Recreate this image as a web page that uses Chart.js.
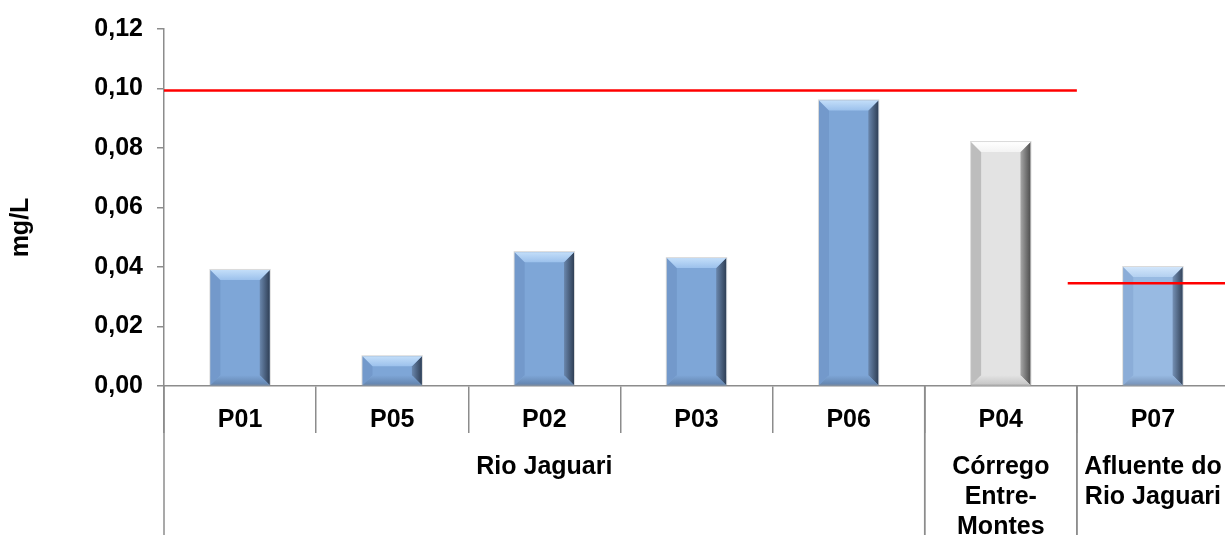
<!DOCTYPE html>
<html>
<head>
<meta charset="utf-8">
<script src="https://cdn.jsdelivr.net/npm/chart.js@4.4.1/dist/chart.umd.min.js"></script>
<style>
html, body { margin: 0; padding: 0; background: #fff; overflow: hidden; }
#wrap { position: relative; width: 1229px; height: 535px; }
</style>
</head>
<body>
<div id="wrap"><canvas id="chart"></canvas></div>
<script>
// data
const categories = ['P01', 'P05', 'P02', 'P03', 'P06', 'P04', 'P07'];
const values = [0.039, 0.010, 0.045, 0.043, 0.096, 0.082, 0.040];
const groupLabels = [['Rio Jaguari'], ['Córrego', 'Entre-', 'Montes'], ['Afluente do', 'Rio Jaguari']];
const groupFirst = [0, 5, 6];
const groupLast = [4, 5, 6];
// limit lines (value, start and end in category index units)
const limitValues = [0.0993, 0.0345];
const limitFrom = [-0.5, 5.44];
const limitTo = [5.5, 6.5];
const yTitle = 'mg/L';

// look of each bar
const palette = {
    blue:  { main: '#7ea6d7', top: ['#c3def9', '#9cc1ec'], left: '#7399cb', right: ['#6a87ad', '#2f3f56'], bottom: '#6283ad' },
    gray:  { main: '#e3e3e3', top: ['#ffffff', '#f3f3f3'], left: '#bdbdbd', right: ['#a8a8a8', '#4f4f4f'], bottom: '#c4c4c4' },
    light: { main: '#98bae2', top: ['#d2e6fb', '#b3d0f0'], left: '#8badd8', right: ['#7591b5', '#34445b'], bottom: '#7692b8' }
};
const barStyle = ['blue', 'blue', 'blue', 'blue', 'blue', 'gray', 'light'];

const fmt = v => v.toFixed(2).replace('.', ',');
const boldFont = size => ({ family: '"Liberation Sans", Arial, sans-serif', size: size, weight: 'bold' });

function poly(ctx, pts, fill) {
    ctx.beginPath();
    ctx.moveTo(pts[0][0], pts[0][1]);
    for (let i = 1; i < pts.length; i++) ctx.lineTo(pts[i][0], pts[i][1]);
    ctx.closePath();
    ctx.fillStyle = fill;
    ctx.fill();
}

// bevel edges on top of each bar
const bevelPlugin = {
    id: 'bevel',
    afterDatasetDraw(chart, args) {
        if (args.index !== 0) return;
        const ctx = chart.ctx;
        args.meta.data.forEach((bar, i) => {
            const p = palette[barStyle[i]];
            const l = bar.x - bar.width / 2, r = bar.x + bar.width / 2;
            const t = bar.y, b = bar.base;
            const s = Math.min(10, (b - t) / 2);
            ctx.save();
            poly(ctx, [[l, t], [l + s, t + s], [l + s, b - s], [l, b]], p.left);
            let g = ctx.createLinearGradient(r - s, 0, r, 0);
            g.addColorStop(0, p.right[0]); g.addColorStop(1, p.right[1]);
            poly(ctx, [[r, t], [r, b], [r - s, b - s], [r - s, t + s]], g);
            g = ctx.createLinearGradient(0, b - s, 0, b);
            g.addColorStop(0, p.main); g.addColorStop(1, p.bottom);
            poly(ctx, [[l, b], [r, b], [r - s, b - s], [l + s, b - s]], g);
            g = ctx.createLinearGradient(0, t, 0, t + s);
            g.addColorStop(0, p.top[0]); g.addColorStop(1, p.top[1]);
            poly(ctx, [[l, t], [r, t], [r - s, t + s], [l + s, t + s]], g);
            ctx.strokeStyle = 'rgba(150,150,150,0.35)';
            ctx.lineWidth = 1;
            ctx.strokeRect(l - 0.5, t - 0.5, r - l + 1, b - t);
            ctx.restore();
        });
    }
};

// group row under the category labels, plus axis title
const groupPlugin = {
    id: 'groups',
    afterDraw(chart) {
        const ctx = chart.ctx;
        const x = chart.scales.x;
        const area = chart.chartArea;
        const half = (x.getPixelForValue(1) - x.getPixelForValue(0)) / 2;
        ctx.save();
        ctx.strokeStyle = '#8c8c8c';
        ctx.lineWidth = 1.5;
        ctx.fillStyle = '#000';
        ctx.font = 'bold 25px "Liberation Sans", Arial, sans-serif';
        ctx.textAlign = 'center';
        ctx.textBaseline = 'middle';
        groupLabels.forEach((lines, g) => {
            const x0 = x.getPixelForValue(groupFirst[g]) - half;
            const x1 = x.getPixelForValue(groupLast[g]) + half;
            [x0, x1].forEach(px => {
                ctx.beginPath();
                ctx.moveTo(px, area.bottom);
                ctx.lineTo(px, chart.height);
                ctx.stroke();
            });
            lines.forEach((txt, k) => ctx.fillText(txt, (x0 + x1) / 2, area.bottom + 81 + k * 30));
        });
        ctx.translate(21, (area.top + area.bottom) / 2 + 20);
        ctx.rotate(-Math.PI / 2);
        ctx.font = 'bold 25px "Liberation Sans", Arial, sans-serif';
        ctx.fillText(yTitle, 0, 0);
        ctx.restore();
    }
};

const limitSets = limitValues.map((v, i) => ({
    type: 'line',
    xAxisID: 'xLine',
    data: [{ x: limitFrom[i], y: v }, { x: limitTo[i], y: v }],
    borderColor: '#ff0000',
    borderWidth: 2.5,
    pointRadius: 0,
    order: 0
}));

new Chart(document.getElementById('chart'), {
    type: 'bar',
    data: {
        labels: categories,
        datasets: [{
            data: values,
            backgroundColor: barStyle.map(k => palette[k].main),
            borderWidth: 0,
            grouped: false,
            barPercentage: 0.39,
            categoryPercentage: 1,
            order: 1
        }, ...limitSets]
    },
    options: {
        responsive: true,
        maintainAspectRatio: false,
        animation: false,
        layout: { padding: { top: 27, right: 0, left: 0, bottom: 0 } },
        plugins: { legend: { display: false }, tooltip: { enabled: false } },
        scales: {
            x: {
                type: 'category',
                offset: true,
                grid: { offset: true, drawOnChartArea: false, drawTicks: true, tickLength: 47, color: '#8c8c8c', lineWidth: 1.5 },
                border: { color: '#8c8c8c', width: 1.5 },
                ticks: { font: boldFont(25), color: '#000', padding: -28, maxRotation: 0 },
                afterFit: s => { s.height = 149; }
            },
            xLine: { type: 'linear', min: -0.5, max: 6.5, offset: false, display: false },
            y: {
                min: 0,
                max: 0.12,
                grid: { drawOnChartArea: false, tickLength: 7, color: '#8c8c8c', lineWidth: 1.5 },
                border: { color: '#8c8c8c', width: 1.5 },
                ticks: { stepSize: 0.02, font: boldFont(25), color: '#000', padding: 14, callback: v => fmt(v) },
                afterFit: s => { s.width = 164; }
            }
        }
    },
    plugins: [bevelPlugin, groupPlugin]
});
</script>
</body>
</html>
